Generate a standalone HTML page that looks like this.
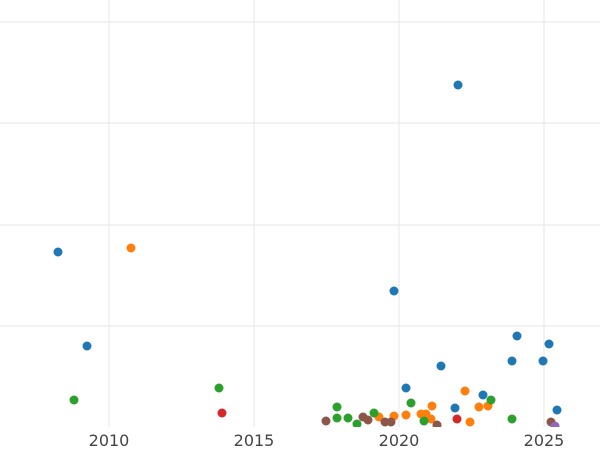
<!DOCTYPE html>
<html><head><style>html,body{margin:0;padding:0;background:#fff;width:600px;height:450px;overflow:hidden}</style></head>
<body>
<svg width="600" height="450" xmlns="http://www.w3.org/2000/svg">
<defs><clipPath id="c"><rect x="0" y="0" width="600" height="427"/></clipPath></defs>
<g stroke="#ebebeb" stroke-width="1.2">
<line x1="0" y1="22" x2="600" y2="22"/><line x1="0" y1="123" x2="600" y2="123"/><line x1="0" y1="225" x2="600" y2="225"/><line x1="0" y1="326" x2="600" y2="326"/>
<line x1="109" y1="0" x2="109" y2="427"/><line x1="254" y1="0" x2="254" y2="427"/><line x1="399" y1="0" x2="399" y2="427"/><line x1="544" y1="0" x2="544" y2="427"/>
</g>
<g clip-path="url(#c)">
<g fill="#1f77b4">
<circle cx="58" cy="252" r="4.5"/><circle cx="87" cy="346" r="4.5"/><circle cx="458" cy="85" r="4.5"/><circle cx="394" cy="291" r="4.5"/><circle cx="549" cy="344" r="4.5"/><circle cx="517" cy="336" r="4.5"/><circle cx="441" cy="366" r="4.5"/><circle cx="512" cy="361" r="4.5"/><circle cx="543" cy="361" r="4.5"/><circle cx="406" cy="388" r="4.5"/><circle cx="455" cy="408" r="4.5"/><circle cx="483" cy="395" r="4.5"/><circle cx="557" cy="410" r="4.5"/>
</g>
<g fill="#ff7f0e">
<circle cx="131" cy="248" r="4.5"/><circle cx="379" cy="417" r="4.5"/><circle cx="394" cy="416" r="4.5"/><circle cx="406" cy="415" r="4.5"/><circle cx="421" cy="414" r="4.5"/><circle cx="426" cy="414" r="4.5"/><circle cx="431" cy="419" r="4.5"/><circle cx="432" cy="406" r="4.5"/><circle cx="465" cy="391" r="4.5"/><circle cx="470" cy="422" r="4.5"/><circle cx="479" cy="407" r="4.5"/><circle cx="488" cy="406" r="4.5"/>
</g>
<g fill="#2ca02c">
<circle cx="74" cy="400" r="4.5"/><circle cx="219" cy="388" r="4.5"/><circle cx="337" cy="407" r="4.5"/><circle cx="337" cy="418" r="4.5"/><circle cx="348" cy="418" r="4.5"/><circle cx="357" cy="424" r="4.5"/><circle cx="374" cy="413" r="4.5"/><circle cx="411" cy="403" r="4.5"/><circle cx="424" cy="421" r="4.5"/><circle cx="491" cy="400" r="4.5"/><circle cx="512" cy="419" r="4.5"/>
</g>
<g fill="#d62728"><circle cx="222" cy="413" r="4.5"/><circle cx="457" cy="419" r="4.5"/></g>
<g fill="#8c564b">
<circle cx="326" cy="421" r="4.5"/><circle cx="363" cy="417" r="4.5"/><circle cx="368" cy="420" r="4.5"/><circle cx="385" cy="422" r="4.5"/><circle cx="391" cy="422" r="4.5"/><circle cx="437" cy="425" r="4.5"/><circle cx="551" cy="422" r="4.5"/>
</g>
<circle cx="555" cy="426" r="4.5" fill="#9467bd"/>
</g>
<g font-family="DejaVu Sans, Liberation Sans, sans-serif" font-size="16" fill="#444" text-anchor="middle">
<text x="109" y="446">2010</text><text x="254" y="446">2015</text><text x="399" y="446">2020</text><text x="544" y="446">2025</text>
</g>
</svg>
</body></html>
